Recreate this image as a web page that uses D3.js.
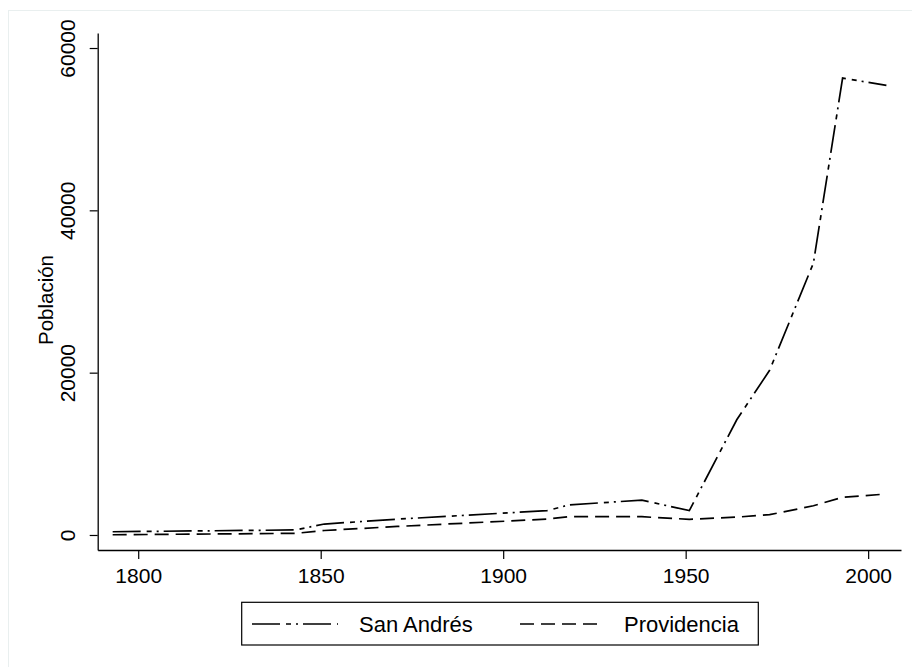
<!DOCTYPE html>
<html><head><meta charset="utf-8">
<script src="https://cdn.jsdelivr.net/npm/d3@7"></script>
<style>body{margin:0;background:#fff;} svg{display:block;} text{font-family:"Liberation Sans",Arial,sans-serif;fill:#000;}</style>
</head><body>
<svg id="c" width="912" height="667"></svg>
<script>
const years = [1793, 1843, 1851, 1871, 1912, 1918, 1938, 1951, 1964, 1973, 1985, 1993, 2005];
const sanAndres = [400, 620, 1350, 1950, 3000, 3700, 4300, 3000, 14200, 20300, 33500, 56300, 55400];
const providencia = [30, 200, 550, 1050, 1950, 2250, 2250, 1930, 2200, 2500, 3600, 4650, 5050];
const xTicks = [1800, 1850, 1900, 1950, 2000];
const yTicks = [0, 20000, 40000, 60000];
const seriesNames = ["San Andrés", "Providencia"];

const svg = d3.select("#c");
// outer frame
svg.append("rect").attr("x",8.5).attr("y",10.5).attr("width",960).attr("height",700)
  .attr("fill","none").attr("stroke","#e9efef").attr("stroke-width",1);

const x = d3.scaleLinear().domain([1788.9, 2009]).range([97.7, 901]);
const y = d3.scaleLinear().domain([-1850, 61850]).range([550, 33]);

// axes
const gx = svg.append("g").attr("transform","translate(0,550)")
  .call(d3.axisBottom(x).tickValues(xTicks).tickFormat(d3.format("d")).tickSize(9).tickSizeOuter(0).tickPadding(4));
const gy = svg.append("g").attr("transform","translate(97.7,0)")
  .call(d3.axisLeft(y).tickValues(yTicks).tickFormat(d3.format("d")).tickSize(8).tickSizeOuter(0));
[gx, gy].forEach(g => {
  g.select(".domain").attr("stroke","#000").attr("stroke-width",1.3);
  g.selectAll(".tick line").attr("stroke","#000").attr("stroke-width",1.2);
  g.selectAll("text").style("font-size","21px").attr("fill","#000").style("font-family","'Liberation Sans',Arial,sans-serif");
});
gx.selectAll("text").attr("dy","0.95em");
gy.selectAll(".tick text").attr("x",null).attr("dy",null)
  .attr("transform","translate(-30,0) rotate(-90)")
  .attr("text-anchor","middle").attr("dominant-baseline","central");

// y axis title
svg.append("text").attr("transform","translate(45,300) rotate(-90)")
  .attr("text-anchor","middle").attr("dominant-baseline","central")
  .style("font-size","20.5px").text("Población");

const line = d3.line().x(d => x(d[0])).y(d => y(d[1]));
const styles = [
  {data: sanAndres, dash: "28,6,5,5,2,5"},
  {data: providencia, dash: "14,7"}
];
styles.forEach(s => {
  svg.append("path").datum(years.map((yr,i)=>[yr, s.data[i]]))
    .attr("d", line).attr("fill","none").attr("stroke","#000")
    .attr("stroke-width",1.7).attr("stroke-dasharray", s.dash);
});

// legend
const lg = svg.append("g");
lg.append("rect").attr("x",241.7).attr("y",602.3).attr("width",516.6).attr("height",42.7)
  .attr("fill","#fff").attr("stroke","#000").attr("stroke-width",1.2);
const legendItems = [
  {x1:252, x2:338, tx:359, dash: styles[0].dash, name: seriesNames[0]},
  {x1:520, x2:603, tx:624, dash: styles[1].dash, name: seriesNames[1]}
];
legendItems.forEach(it => {
  lg.append("line").attr("x1",it.x1).attr("x2",it.x2).attr("y1",624).attr("y2",624)
    .attr("stroke","#000").attr("stroke-width",1.7).attr("stroke-dasharray",it.dash);
  lg.append("text").attr("x",it.tx).attr("y",624).attr("dominant-baseline","central")
    .style("font-size","22px").text(it.name);
});
</script>
</body></html>
